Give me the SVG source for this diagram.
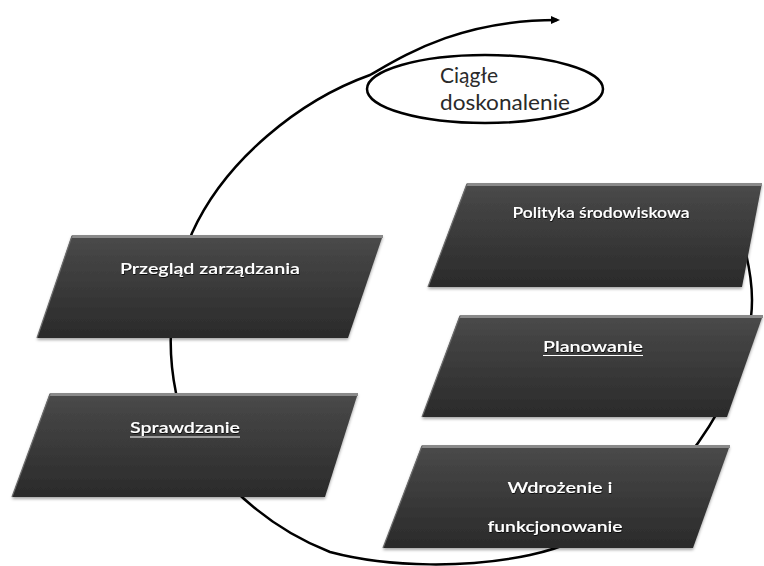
<svg xmlns="http://www.w3.org/2000/svg" width="764" height="566" viewBox="0 0 764 566">
<defs>
  <linearGradient id="pg" x1="0" y1="0" x2="0" y2="1">
    <stop offset="0" stop-color="#4a4a4a"/>
    <stop offset="0.5" stop-color="#3a3a3a"/>
    <stop offset="1" stop-color="#2a2a2a"/>
  </linearGradient>
  <filter id="sh" x="-10%" y="-10%" width="120%" height="130%">
    <feDropShadow dx="0" dy="2" stdDeviation="1.5" flood-color="#000" flood-opacity="0.35"/>
  </filter>
  <filter id="tsh" x="-10%" y="-30%" width="120%" height="160%">
    <feDropShadow dx="0.5" dy="1" stdDeviation="0.6" flood-color="#000" flood-opacity="0.8"/>
  </filter>
  <marker id="arr" markerWidth="10" markerHeight="10" refX="6" refY="5" orient="auto" markerUnits="userSpaceOnUse">
    <path d="M0,1 L9,5 L0,9 Z" fill="#000"/>
  </marker>
</defs>
<style>
  .para { fill: url(#pg); filter: url(#sh); }
  .top { stroke: #8a8a8a; stroke-width: 3; fill: none; }
  .side { stroke: #6a6a6a; stroke-width: 1.2; fill: none; }
  .lbl { fill: #ffffff; font-family: Lato, "Liberation Sans", sans-serif; font-size: 16px; font-weight: 600; text-anchor: middle; filter: url(#tsh); }
  .ul { stroke: #ffffff; stroke-width: 1; }
  .cycle { fill: none; stroke: #000; stroke-width: 2.5; }
  .dark { fill: #2a2a2a; font-family: Lato, "Liberation Sans", sans-serif; font-size: 22px; }
</style>
<rect width="764" height="566" fill="#ffffff"/>
<g id="connectors">
  <path class="cycle" marker-end="url(#arr)" d="M738,225 C746,250 752,275 752,300 C752,350 725,405 698,443 C660,495 600,540 530,555 C470,568 390,568 330,552 C260,525 190,460 176,393 C165,340 172,285 192,233 C225,160 300,100 370,75 C405,55 460,20 557,20"/>
</g>
<g id="ciagle-doskonalenie">
  <ellipse cx="485" cy="89" rx="118" ry="34" fill="none" stroke="#000" stroke-width="2.5"/>
  <text class="dark" x="440" y="83" textLength="58" lengthAdjust="spacingAndGlyphs">Ciągłe</text>
  <text class="dark" x="440" y="110" textLength="130" lengthAdjust="spacingAndGlyphs">doskonalenie</text>
</g>
<g id="polityka">
  <polygon class="para" points="467,183 762,183 742,287 428,287"/>
  <line class="top" x1="467" y1="184.5" x2="762" y2="184.5"/>
  <line class="side" x1="467" y1="184" x2="428" y2="287"/>
  <text class="lbl" x="601" y="218" font-size="14" textLength="177" lengthAdjust="spacingAndGlyphs">Polityka środowiskowa</text>
</g>
<g id="planowanie">
  <polygon class="para" points="460,315 763,315 727,417 422,417"/>
  <line class="top" x1="460" y1="316.5" x2="763" y2="316.5"/>
  <line class="side" x1="460" y1="316" x2="422" y2="417"/>
  <text class="lbl" x="593" y="352" textLength="100" lengthAdjust="spacingAndGlyphs">Planowanie</text>
  <line class="ul" x1="543" y1="355.5" x2="643" y2="355.5"/>
</g>
<g id="wdrozenie">
  <polygon class="para" points="422,445 730,445 693,548 383,548"/>
  <line class="top" x1="422" y1="446.5" x2="730" y2="446.5"/>
  <line class="side" x1="422" y1="446" x2="383" y2="548"/>
  <text class="lbl" x="560" y="493" textLength="105" lengthAdjust="spacingAndGlyphs">Wdrożenie i</text>
  <text class="lbl" x="555" y="532" textLength="135" lengthAdjust="spacingAndGlyphs">funkcjonowanie</text>
</g>
<g id="przeglad">
  <polygon class="para" points="72,235 383,235 348,338 37,338"/>
  <line class="top" x1="72" y1="236.5" x2="383" y2="236.5"/>
  <line class="side" x1="72" y1="236" x2="37" y2="338"/>
  <text class="lbl" x="210" y="274" textLength="180" lengthAdjust="spacingAndGlyphs">Przegląd zarządzania</text>
</g>
<g id="sprawdzanie">
  <polygon class="para" points="50,393 358,393 325,497 12,497"/>
  <line class="top" x1="50" y1="394.5" x2="358" y2="394.5"/>
  <line class="side" x1="50" y1="394" x2="12" y2="497"/>
  <text class="lbl" x="185" y="433" textLength="110" lengthAdjust="spacingAndGlyphs">Sprawdzanie</text>
  <line class="ul" x1="130" y1="437" x2="240" y2="437"/>
</g>
</svg>
